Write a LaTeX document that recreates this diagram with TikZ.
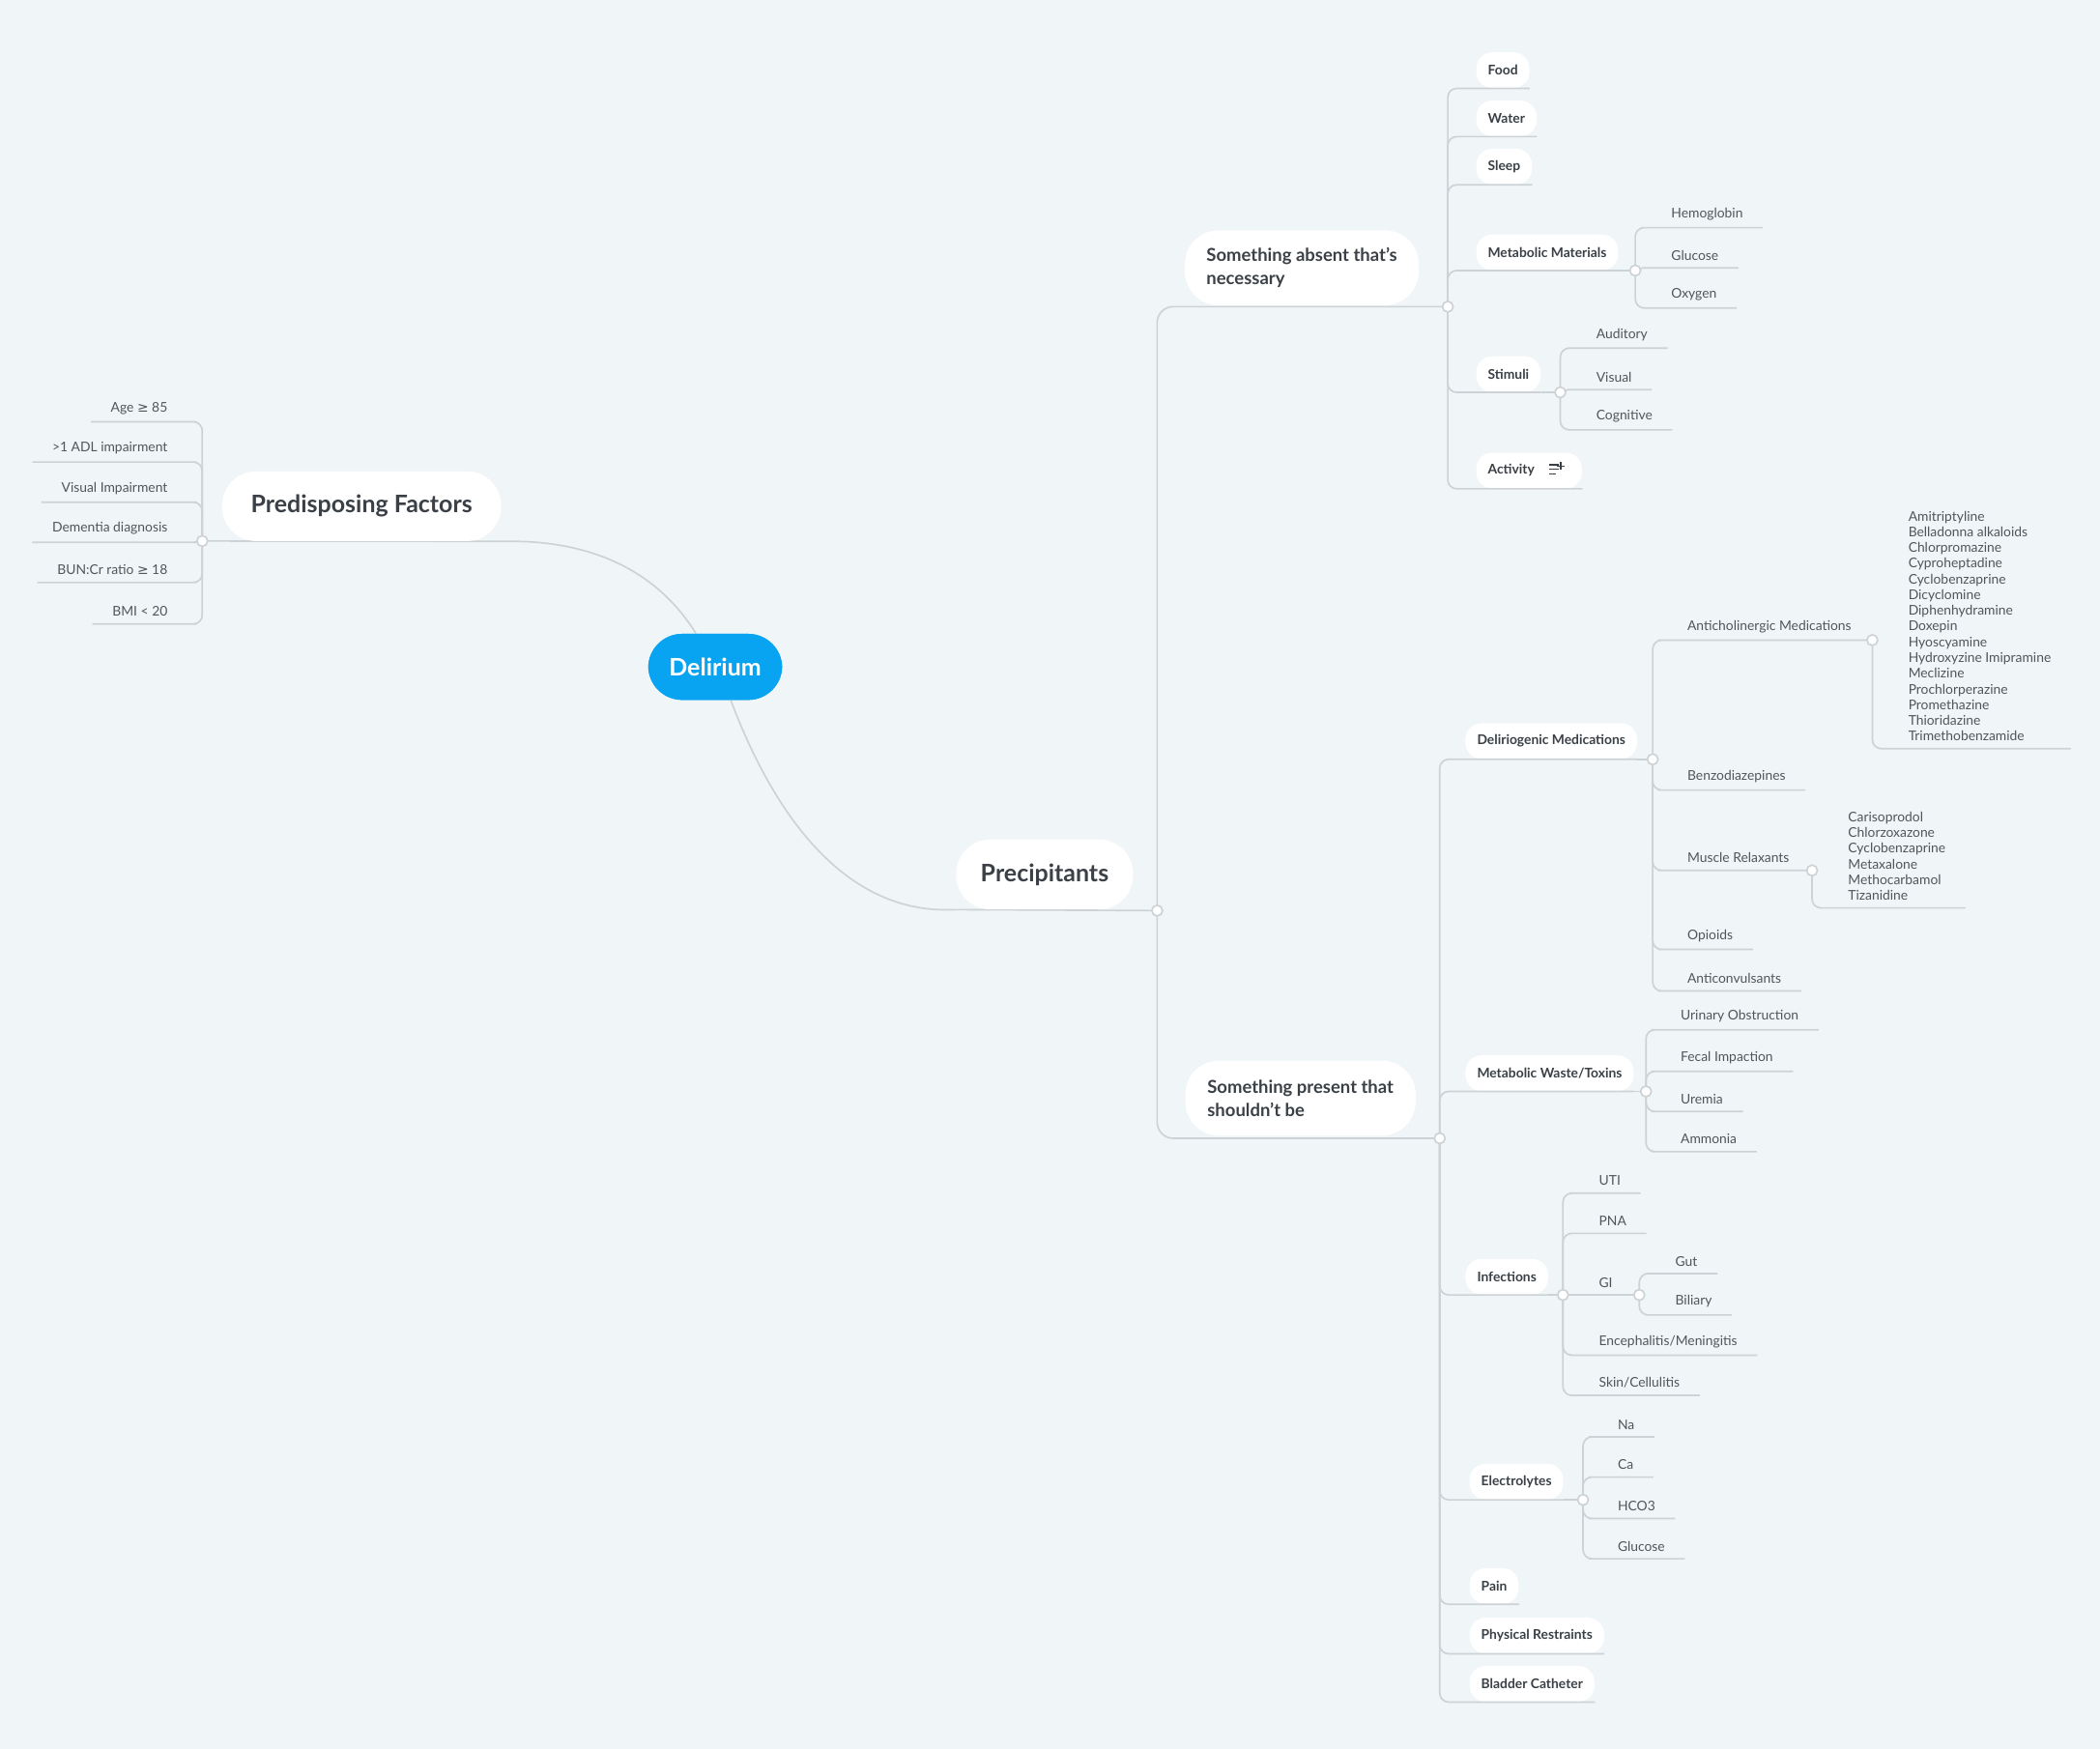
\documentclass[tikz,border=0pt]{standalone}
\usepackage{fontspec}
\setmainfont{Lato}
\newfontfamily\djv{DejaVu Sans}
\definecolor{bgc}{HTML}{F0F5F7}
\definecolor{linec}{HTML}{CDD2D6}
\definecolor{txc}{HTML}{3A4046}
\definecolor{stx}{HTML}{50565C}
\definecolor{blu}{HTML}{08A4F2}
\tikzset{
 conn/.style={draw=linec,line width=0.9pt,rounded corners=5pt},
 bigconn/.style={draw=linec,line width=0.9pt,rounded corners=9pt},
 leafst/.style={inner xsep=11pt,inner ysep=4pt,text=stx,font={\fontsize{7.5}{8.8}\selectfont},align=left},
 pillst/.style={fill=white,rounded corners=9pt,inner xsep=6.5pt,inner ysep=0pt,minimum height=20pt,text=txc,font={\fontsize{7.5}{9}\selectfont\bfseries}},
 bigst/.style={fill=white,rounded corners=19pt,text=txc,inner xsep=10pt,minimum height=39pt},
 jn/.style={circle,draw=linec,fill=white,line width=0.9pt,inner sep=0pt,minimum size=6pt}
}
\newcommand\lfr[5]{\node[leafst,anchor=south west] (#1) at (#3,#4) {#5};
 \draw[conn] (#2) |- (#1.south west) -- (#1.south east);}
\newcommand\pil[5]{\node[pillst,anchor=south west] (#1) at (#3,#4) {#5};
 \draw[conn] (#2) |- (#1.south west) -- (#1.south east);}
\newcommand\lfl[5]{\node[leafst,anchor=south east] (#1) at (#3,#4) {#5};
 \draw[conn] (#2) |- (#1.south east) -- (#1.south west);}
\begin{document}
\begin{tikzpicture}[x=0.75pt,y=-0.75pt]
\fill[bgc] (0,0) rectangle (1568,1306);
\useasboundingbox (0,0) rectangle (1568,1306);
% junction coordinates
\coordinate (pdj) at (151,404);
\coordinate (pj) at (864,680);
\coordinate (aj) at (1081,229);
\coordinate (sj) at (1075,850);
\coordinate (mmj) at (1221,202);
\coordinate (stj) at (1165,293);
\coordinate (dmj) at (1234,567);
\coordinate (acj) at (1398,478);
\coordinate (mrj) at (1353,650);
\coordinate (mwj) at (1229,815);
\coordinate (inj) at (1167,967);
\coordinate (gij) at (1224,967);
\coordinate (elj) at (1182,1120);
% big nodes (for anchors)
\node[fill=blu,rounded corners=19pt,minimum width=75pt,minimum height=37pt,text=white,font={\fontsize{13.5}{16}\selectfont\bfseries}] (del) at (534,498) {Delirium};
\node[bigst,minimum width=156pt,font={\fontsize{13.5}{16}\selectfont\bfseries}] (pred) at (270,378) {Predisposing Factors};
\node[bigst,minimum width=99pt,font={\fontsize{13.5}{16}\selectfont\bfseries}] (prec) at (780,653) {Precipitants};
% main connectors
\draw[conn] (del.120) .. controls (490,425) and (440,404) .. (pred.south east) -- (pdj);
\draw[conn] (del.-65) .. controls (590,640) and (650,680) .. (prec.south west) -- (pj);
\draw[bigconn] (pj) |- (aj);
\draw[bigconn] (pj) |- (sj);
% big nodes on top
\node[bigst,minimum width=156pt,font={\fontsize{13.5}{16}\selectfont\bfseries}] at (270,378) {Predisposing Factors};
\node[bigst,minimum width=99pt,font={\fontsize{13.5}{16}\selectfont\bfseries}] at (780,653) {Precipitants};
\node[bigst,minimum width=131pt,minimum height=42pt,align=left,font={\fontsize{10}{13}\selectfont\bfseries}] (abs) at (972,200) {Something absent that's\\necessary};
\node[bigst,minimum width=129pt,minimum height=42pt,align=left,font={\fontsize{10}{13}\selectfont\bfseries}] (pres) at (971,820) {Something present that\\shouldn't be};
\node[fill=blu,rounded corners=19pt,minimum width=75pt,minimum height=37pt,text=white,font={\fontsize{13.5}{16}\selectfont\bfseries}] at (534,498) {Delirium};
% predisposing leaves
\lfl{p1}{pdj}{140}{315}{Age {\djv ≥} 85}
\lfl{p2}{pdj}{140}{345}{>1 ADL impairment}
\lfl{p3}{pdj}{140}{375}{Visual Impairment}
\lfl{p4}{pdj}{140}{405}{Dementia diagnosis}
\lfl{p5}{pdj}{140}{435}{BUN:Cr ratio {\djv ≥} 18}
\lfl{p6}{pdj}{140}{466}{BMI < 20}
% absent
\pil{food}{aj}{1102}{66}{Food}
\pil{water}{aj}{1102}{102}{Water}
\pil{sleep}{aj}{1102}{138}{Sleep}
\pil{mm}{aj}{1102}{202}{Metabolic Materials}
\draw[conn] (mm.south east) -- (mmj);
\pil{stim}{aj}{1102}{293}{Stimuli}
\draw[conn] (stim.south east) -- (stj);
\pil{act}{aj}{1102}{365}{Activity\kern20pt\strut}
\draw[txc,line width=0.8pt] (1157,347)--(1164,347) (1157,350.5)--(1164,350.5) (1157,354)--(1162,354) (1165.5,345)--(1165.5,351) (1162.5,348)--(1168.5,348);
\lfr{hb}{mmj}{1233}{170}{Hemoglobin}
\lfr{gl}{mmj}{1233}{200}{Glucose}
\lfr{ox}{mmj}{1233}{230}{Oxygen}
\lfr{au}{stj}{1177}{260}{Auditory}
\lfr{vi}{stj}{1177}{291}{Visual}
\lfr{co}{stj}{1177}{321}{Cognitive}
% present
\pil{dm}{sj}{1094}{567}{Deliriogenic Medications}
\draw[conn] (dm.south east) -- (dmj);
\pil{mw}{sj}{1094}{815}{Metabolic Waste/Toxins}
\draw[conn] (mw.south east) -- (mwj);
\pil{inf}{sj}{1094}{967}{Infections}
\draw[conn] (inf.south east) -- (inj);
\pil{el}{sj}{1097}{1120}{Electrolytes}
\draw[conn] (el.south east) -- (elj);
\pil{pain}{sj}{1097}{1198}{Pain}
\pil{pr}{sj}{1097}{1235}{Physical Restraints}
\pil{bc}{sj}{1097}{1271}{Bladder Catheter}
% deliriogenic
\lfr{ac}{dmj}{1245}{478}{Anticholinergic Medications}
\draw[conn] (ac.south east) -- (acj);
\lfr{bz}{dmj}{1245}{590}{Benzodiazepines}
\lfr{mr}{dmj}{1245}{650}{Muscle Relaxants}
\draw[conn] (mr.south east) -- (mrj);
\lfr{op}{dmj}{1245}{709}{Opioids}
\lfr{an}{dmj}{1245}{740}{Anticonvulsants}
\lfr{acl}{acj}{1410}{559}{Amitriptyline\\Belladonna alkaloids\\Chlorpromazine\\Cyproheptadine\\Cyclobenzaprine\\Dicyclomine\\Diphenhydramine\\Doxepin\\Hyoscyamine\\Hydroxyzine Imipramine\\Meclizine\\Prochlorperazine\\Promethazine\\Thioridazine\\Trimethobenzamide}
\lfr{mrl}{mrj}{1365}{678}{Carisoprodol\\Chlorzoxazone\\Cyclobenzaprine\\Metaxalone\\Methocarbamol\\Tizanidine}
% metabolic waste
\lfr{uo}{mwj}{1240}{769}{Urinary Obstruction}
\lfr{fi}{mwj}{1240}{800}{Fecal Impaction}
\lfr{ur}{mwj}{1240}{830}{Uremia}
\lfr{am}{mwj}{1240}{860}{Ammonia}
% infections
\lfr{uti}{inj}{1179}{891}{UTI}
\lfr{pna}{inj}{1179}{921}{PNA}
\node[leafst,anchor=south west] (gi) at (1179,967) {GI};
\draw[conn] (inj) -- (gij);
\lfr{enc}{inj}{1179}{1012}{Encephalitis/Meningitis}
\lfr{skin}{inj}{1179}{1042}{Skin/Cellulitis}
\lfr{gut}{gij}{1236}{951}{Gut}
\lfr{bil}{gij}{1236}{982}{Biliary}
% electrolytes
\lfr{na}{elj}{1193}{1073}{Na}
\lfr{ca}{elj}{1193}{1103}{Ca}
\lfr{hco}{elj}{1193}{1134}{HCO3}
\lfr{glu}{elj}{1193}{1164}{Glucose}
% junction circles
\foreach \j in {pdj,pj,aj,sj,mmj,stj,dmj,acj,mrj,mwj,inj,gij,elj}
  \node[jn] at (\j) {};
\end{tikzpicture}
\end{document}
